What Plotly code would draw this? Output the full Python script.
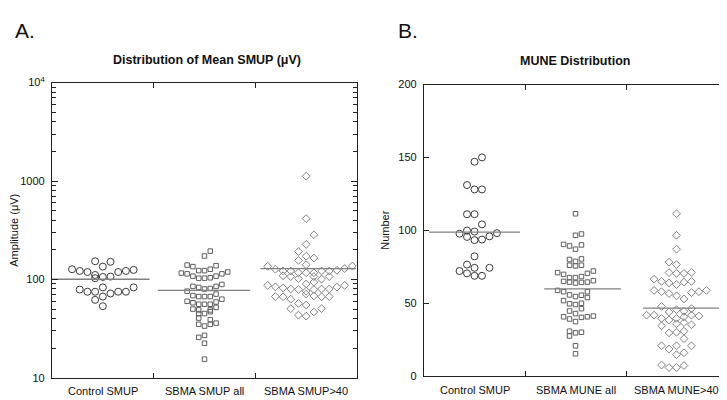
import plotly.graph_objects as go

# ---------------- data ----------------
groups_a = ["Control SMUP", "SBMA SMUP all", "SBMA SMUP>40"]
groups_b = ["Control SMUP", "SBMA MUNE all", "SBMA MUNE>40"]

# Panel A: mean SMUP amplitude (uV); slot = beeswarm column index
ctrl_smup = [127, 122, 119, 153, 135, 151, 119, 122, 125, 111, 103, 106, 107,
             79, 75, 75, 83, 72, 75, 75, 83, 62, 67, 53.5]
ctrl_smup_slot = [-4, -3, -2, -1, 0, 1, 2, 3, 4, -1, -1, 0, 1,
                  -3, -2, -1, 0, 1, 2, 3, 4, -1, 0, 0]

sbma_smup_all = [194, 173, 140, 135, 138, 123, 123, 127, 116, 114, 108, 103, 103,
                 104, 108, 114, 119, 85, 83, 80, 81, 85, 89, 76, 68.5, 67, 67, 67,
                 71, 60, 58, 56, 56, 56, 59, 63, 50, 49, 49, 52, 45, 45, 47, 40.5,
                 39, 35, 33.6, 35, 36, 25.8, 27, 22.5, 15.5]
sbma_smup_all_slot = [1, 0, -3, -2, 2, -1, 0, 1, -4, -3, -2, -1, 0,
                      1, 2, 3, 4, -2, -1, 0, 1, 2, 3, -3, -2, -1, 0, 1,
                      2, -3, -2, -1, 0, 1, 2, 3, -2, -1, 1, 2, -1, 0, 1, -1,
                      1, -1, 0, 1, 2, -1, 0, 0, 0]

sbma_smup_40 = [1119, 415, 284, 227, 192, 172, 165, 156, 141, 136, 127, 122, 122,
                117, 117, 117, 122, 122, 124, 129, 137, 109, 107, 102, 107, 100.7,
                107, 90, 94, 87, 84, 82, 80, 79, 76, 79, 80, 80, 83.5, 87, 67, 66.6,
                63, 71, 68, 66.6, 67, 57, 55, 50.5, 50.5, 46.7, 43.4, 42.4]
sbma_smup_40_slot = [0, 0, 1, 0, -1, 0, 1, -1, 0, -5, -4, -3, -2,
                     -1, 0, 1, 2, 3, 4, 5, 6, -3, -2, -1, 1, 2,
                     3, 0, 1, -5, -4, -3, -2, -1, 0, 1, 2, 3, 4, 5, -4, -3,
                     -2, 0, 1, 2, 3, -1, 0, -2, 2, 1, -1, 0]

means_a = [100.5, 77.5, 129]

y_ticks_a = [10, 100, 1000, 10000]
y_ticktext_a = ["10", "100", "1000", "10<sup>4</sup>"]
y_minor_a = [20, 30, 40, 50, 60, 70, 80, 90, 200, 300, 400, 500, 600, 700, 800, 900,
             2000, 3000, 4000, 5000, 6000, 7000, 8000, 9000]

# Panel B: MUNE (number)
ctrl_mune = [150, 147, 131, 128, 128, 111, 111, 104, 97.6, 99.8, 99.1, 95.8, 98,
             95.4, 93.2, 93.6, 82.1, 76.4, 74.2, 74.2, 72, 70.4, 68.7, 68.7]
ctrl_mune_slot = [1, 0, -1, 0, 1, -1, 0, 1, -2, -1, 0, 2, 3,
                  -1, 0, 1, 0, -1, 0, 2, -2, -1, 0, 1]

sbma_mune_all = [111.3, 96.5, 97.4, 90.3, 89.2, 87, 89.9, 79.9, 78.6, 80.3, 76, 75.5,
                 76, 70.9, 69.7, 67.5, 67.5, 68.2, 70.4, 72, 64.9, 64.4, 63.8, 64.2,
                 64.4, 65.4, 58.7, 57.8, 55.6, 54.5, 55.4, 57.8, 53.8, 51.7, 49.5, 49,
                 49.9, 44.6, 42.8, 46.2, 40.6, 39.1, 37.3, 40.2, 40.6, 41.1, 30.7, 29.6,
                 30, 27.4, 20.7, 15.2]
sbma_mune_all_slot = [0, 0, 1, -2, -1, 0, 1, -1, 0, 1, -1, 0,
                      1, -3, -2, -1, 0, 1, 2, 3, -2, -1, 0, 1,
                      2, 3, -3, -2, -1, 0, 1, 2, 2, -2, -1, 0,
                      1, -1, 0, 1, -2, -1, 0, 1, 2, 3, -1, 0,
                      1, -1, 0, 0]

sbma_mune_40 = [111.3, 96.5, 87, 78.1, 76.4, 70.9, 70.4, 70.4, 71.1, 66.4, 64.9, 63.8,
                62.7, 64.4, 64.9, 58.7, 57.8, 56.5, 55, 52.8, 57.2, 57.8, 58.7, 47.7,
                43.9, 45.5, 44.4, 46.2, 41.7, 41.7, 39.5, 38.4, 39.5, 40.6, 41.7, 41.1,
                34.4, 35.8, 36.6, 35.1, 29.6, 30, 30.7, 25.6, 20.7, 18.5, 20.7, 20.7,
                14.6, 15.9, 7.5, 5.8, 5.8, 7.1]
sbma_mune_40_slot = [0, 0, 0, -1, 0, -1, 0, 1, 2, -3, -2, -1,
                     0, 1, 2, -3, -2, -1, 0, 1, 2, 3, 4, -2,
                     -1, 0, 1, 2, -4, -3, -2, -1, 0, 1, 2, 3,
                     -2, 0, 1, 2, -1, 0, 1, 1, -2, -1, 0, 2,
                     0, 1, -2, -1, 0, 1]

means_b = [98.7, 59.8, 46.6]

y_ticks_b = [0, 50, 100, 150, 200]

# ---------------- figure ----------------
FONT = "Liberation Sans, Arial, sans-serif"
fig = go.Figure()

def swarm(vals, slots, cat, step, sym, size, color, xa, ya):
    fig.add_trace(go.Scatter(
        x=[cat + s * step for s in slots], y=vals, mode="markers",
        marker=dict(symbol=sym, size=size, color=color, line=dict(width=1, color=color)),
        xaxis=xa, yaxis=ya, showlegend=False, hoverinfo="y"))

CIRC = "#3a3a3a"
SQ = "#5e5e5e"
DIA = "#808080"

swarm(ctrl_smup, ctrl_smup_slot, 0, 0.0757, "circle-open", 7, CIRC, "x", "y")
swarm(sbma_smup_all, sbma_smup_all_slot, 1, 0.057, "square-open", 4.5, SQ, "x", "y")
swarm(sbma_smup_40, sbma_smup_40_slot, 2, 0.0757, "diamond-open", 6, DIA, "x", "y")

swarm(ctrl_mune, ctrl_mune_slot, 0, 0.074, "circle-open", 7, CIRC, "x2", "y2")
swarm(sbma_mune_all, sbma_mune_all_slot, 1, 0.059, "square-open", 4.5, SQ, "x2", "y2")
swarm(sbma_mune_40, sbma_mune_40_slot, 2, 0.074, "diamond-open", 6, DIA, "x2", "y2")

LINE = "#808080"
left_a, right_a = [-0.5, -0.46, -0.45], [0.46, 0.45, 0.49]
left_b, right_b = [-0.45, -0.31, -0.33], [0.45, 0.45, 0.46]
for i, m in enumerate(means_a):
    fig.add_trace(go.Scatter(x=[i + left_a[i], i + right_a[i]], y=[m, m], mode="lines",
                             line=dict(color=LINE, width=1.3), xaxis="x", yaxis="y",
                             showlegend=False, hoverinfo="skip"))
for i, m in enumerate(means_b):
    fig.add_trace(go.Scatter(x=[i + left_b[i], i + right_b[i]], y=[m, m], mode="lines",
                             line=dict(color=LINE, width=1.3), xaxis="x2", yaxis="y2",
                             showlegend=False, hoverinfo="skip"))

W, H = 727, 400
def dx(px):
    return px / W
def dy(py):
    return 1 - py / H

AX = "#222"
xcommon = dict(range=[-0.5, 2.5], tickvals=[0.5, 1.5], ticks="inside", ticklen=5,
               tickcolor=AX, showticklabels=False, showline=True, linecolor=AX,
               linewidth=1.2, mirror="ticks", showgrid=False, zeroline=False, fixedrange=True)

TICKF = dict(size=11, family=FONT)
fig.update_layout(
    width=W, height=H, margin=dict(l=0, r=0, t=0, b=0),
    paper_bgcolor="white", plot_bgcolor="white",
    font=dict(family=FONT, color="#111"),
    xaxis=dict(domain=[dx(44), dx(349)], anchor="y", **xcommon),
    xaxis2=dict(domain=[dx(416), dx(719)], anchor="y2", **xcommon),
    yaxis=dict(domain=[dy(375), dy(69)], anchor="x", type="log", range=[1, 4],
               tickvals=y_ticks_a, ticktext=y_ticktext_a,
               ticks="inside", ticklen=6, tickcolor=AX, tickfont=TICKF,
               minor=dict(tickmode="array", tickvals=y_minor_a, ticks="inside", ticklen=4,
                          tickcolor=AX, showgrid=False),
               showline=True, linecolor=AX, linewidth=1.2, mirror="ticks",
               showgrid=False, zeroline=False, ticklabelstandoff=4,
               title=dict(text="Amplitude (μV)", font=dict(size=11, family=FONT), standoff=4)),
    yaxis2=dict(domain=[dy(373), dy(71)], anchor="x2", range=[0, 200],
                tickvals=y_ticks_b, ticks="inside", ticklen=5, tickcolor=AX,
                tickfont=TICKF,
                showline=True, linecolor=AX, linewidth=1.2, mirror="ticks",
                showgrid=False, zeroline=False, ticklabelstandoff=4,
                title=dict(text="Number", font=dict(size=11, family=FONT), standoff=6)),
)

ann = []
for i, g in enumerate(groups_a):
    ann.append(dict(x=i, y=dy(389), xref="x", yref="paper", text=g, showarrow=False,
                    font=dict(size=11, family=FONT), xanchor="center", yanchor="middle"))
for i, g in enumerate(groups_b):
    ann.append(dict(x=i, y=dy(388), xref="x2", yref="paper", text=g, showarrow=False,
                    font=dict(size=11, family=FONT), xanchor="center", yanchor="middle"))
ann.append(dict(x=dx(199), y=dy(46), xref="paper", yref="paper",
                text="<b>Distribution of Mean SMUP (μV)</b>", showarrow=False,
                font=dict(size=12.5, family=FONT), xanchor="center", yanchor="middle"))
ann.append(dict(x=dx(567), y=dy(47), xref="paper", yref="paper",
                text="<b>MUNE Distribution</b>", showarrow=False,
                font=dict(size=12.5, family=FONT), xanchor="center", yanchor="middle"))
ann.append(dict(x=dx(5), y=dy(15), xref="paper", yref="paper", text="A.", showarrow=False,
                font=dict(size=21, family=FONT), xanchor="left", yanchor="middle"))
ann.append(dict(x=dx(388), y=dy(15), xref="paper", yref="paper", text="B.", showarrow=False,
                font=dict(size=21, family=FONT), xanchor="left", yanchor="middle"))
fig.update_layout(annotations=ann)

fig.write_html("out.html")
